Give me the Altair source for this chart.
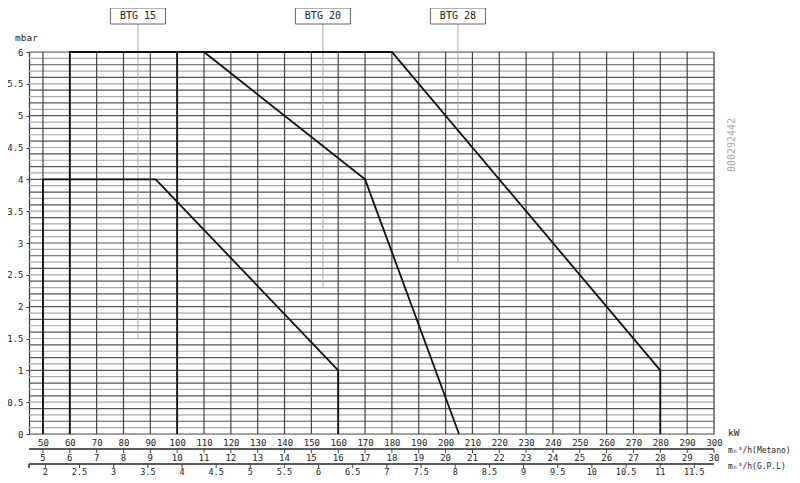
import altair as alt
import pandas as pd

FONT = "DejaVu Sans Mono"

# ---- data ----
btg15_kw = [50, 50, 92, 160, 160]
btg15_mbar = [0, 4, 4, 1, 0]
btg20_kw = [60, 60, 110, 170, 205]
btg20_mbar = [0, 6, 6, 4, 0]
btg28_kw = [100, 100, 180, 280, 280]
btg28_mbar = [0, 6, 6, 1, 0]

models = ["BTG 15", "BTG 20", "BTG 28"]
label_kw = [85.4, 154.3, 204.6]
label_mbar = [1.5, 2.3, 2.7]

kw_ticks = list(range(50, 301, 10))
metano_ticks = list(range(5, 31))
gpl_ticks = [2, 2.5, 3, 3.5, 4, 4.5, 5, 5.5, 6, 6.5, 7, 7.5, 8, 8.5, 9, 9.5,
             10, 10.5, 11, 11.5]
mbar_labels = [0, 0.5, 1, 1.5, 2, 2.5, 3, 3.5, 4, 4.5, 5, 5.5, 6]
KW_PER_METANO = 10.0
KW_PER_GPL = 25.45

W, H = 685, 382

# ---- tables ----
rows = []
for name, xs_, ys_ in [("BTG 15", btg15_kw, btg15_mbar),
                       ("BTG 20", btg20_kw, btg20_mbar),
                       ("BTG 28", btg28_kw, btg28_mbar)]:
    for i, (x, y) in enumerate(zip(xs_, ys_)):
        rows.append({"model": name, "kw": x, "mbar": y, "ord": i})
curves = pd.DataFrame(rows)

hgrid = pd.DataFrame({"mbar": [round(i * 0.1, 1) for i in range(61)],
                      "par": [str(i % 2) for i in range(61)]})
vgrid = pd.DataFrame({"kw": kw_ticks})
labels = pd.DataFrame({"model": models, "kw": label_kw, "mbar": label_mbar})
labels["x1"] = labels["kw"] - 10.25
labels["x2"] = labels["kw"] + 10.25
met = pd.DataFrame({"val": metano_ticks})
met["kw"] = met["val"] * KW_PER_METANO
met["lab"] = met["val"].astype(str)
gpl = pd.DataFrame({"val": gpl_ticks})
gpl["kw"] = gpl["val"] * KW_PER_GPL
gpl["lab"] = [("%g" % v) for v in gpl_ticks]

xs = alt.Scale(domain=[44.8, 300], nice=False, zero=False)
ys = alt.Scale(domain=[0, 6], nice=False, zero=True)

x_axis = alt.Axis(values=kw_ticks, grid=False, ticks=False, domain=False,
                  labelPadding=4, labelFlush=False, labelOverlap=False,
                  labelFont=FONT, labelFontSize=9, labelColor="#222",
                  title=None, format="d")
y_axis = alt.Axis(values=mbar_labels, format=".1~f", grid=False,
                  tickSize=3, tickColor="#333", domainColor="#333",
                  domainWidth=1.2, labelPadding=3, labelFont=FONT,
                  labelFontSize=9, labelColor="#222", title=None,
                  labelOverlap=False, labelFlush=False)


def X(f="kw:Q"):
    return alt.X(f, scale=xs, axis=x_axis)


def Y(f="mbar:Q"):
    return alt.Y(f, scale=ys, axis=y_axis)


hg = alt.Chart(hgrid).mark_rule(strokeWidth=1.2).encode(
    y=Y(), x=alt.value(0), x2=alt.value(W),
    color=alt.Color("par:N", scale=alt.Scale(domain=["0", "1"], range=["#555555", "#aaaaaa"]),
                    legend=None),
)

vg = alt.Chart(vgrid).mark_rule(strokeWidth=1.2, color="#444").encode(
    x=X(), y=alt.value(0), y2=alt.value(H)
)

lines = alt.Chart(curves).mark_line(color="#111", strokeWidth=1.8).encode(
    x=X(), y=Y(), detail="model:N", order="ord:Q",
)

BOX_TOP, BOX_BOT = -44, -28
leaders = alt.Chart(labels).mark_rule(color="#aaa", strokeWidth=1).encode(
    x=X(), y=Y(), y2=alt.value(BOX_BOT)
)
boxes = alt.Chart(labels).mark_rect(fill="white", stroke="#666", strokeWidth=1).encode(
    x=X("x1:Q"), x2="x2:Q", y=alt.value(BOX_TOP), y2=alt.value(BOX_BOT)
)
boxtext = alt.Chart(labels).mark_text(font=FONT, fontSize=10, color="#222").encode(
    x=X(), y=alt.value((BOX_TOP + BOX_BOT) / 2), text="model:N"
)

row1 = alt.Chart(labels).mark_rule(color="#444", strokeWidth=1).encode(
    x=alt.value(0), x2=alt.value(W), y=alt.value(397)
)
row2 = alt.Chart(labels).mark_rule(color="#444", strokeWidth=1).encode(
    x=alt.value(0), x2=alt.value(W), y=alt.value(412)
)
met_ticks = alt.Chart(met).mark_rule(color="#444", strokeWidth=1).encode(
    x=X(), y=alt.value(397), y2=alt.value(401)
)
met_text = alt.Chart(met).mark_text(font=FONT, fontSize=9, color="#222").encode(
    x=X(), y=alt.value(406), text="lab:N"
)
gpl_ticks_m = alt.Chart(gpl).mark_rule(color="#444", strokeWidth=1).encode(
    x=X(), y=alt.value(412), y2=alt.value(416)
)
gpl_text = alt.Chart(gpl).mark_text(font=FONT, fontSize=8.5, color="#222").encode(
    x=X(), y=alt.value(419.5), text="lab:N"
)
left_tick = alt.Chart(labels).mark_rule(color="#444").encode(
    x=alt.value(0), y=alt.value(412), y2=alt.value(416)
)


def side_label(t, px, py, size=9):
    return alt.Chart(pd.DataFrame({"t": [t]})).mark_text(
        font=FONT, fontSize=size, color="#222", align="left"
    ).encode(x=alt.value(px), y=alt.value(py), text="t:N")


code_text = alt.Chart(pd.DataFrame({"t": ["000292442"]})).mark_text(
    font=FONT, fontSize=10, color="#aaa", angle=270
).encode(x=alt.value(703), y=alt.value(93), text="t:N")

chart = alt.layer(
    hg, vg, leaders, lines, boxes, boxtext, row1, row2, met_ticks, met_text,
    gpl_ticks_m, gpl_text, left_tick,
    side_label("kW", 699, 381, 9.5),
    side_label("mₙ³/h(Metano)", 699, 399, 8),
    side_label("mₙ³/h(G.P.L)", 699, 415, 8),
    side_label("mbar", -14, -14, 9.5),
    code_text,
).properties(
    width=W, height=H, autosize="none",
    padding={"left": 21, "top": 44, "right": 78, "bottom": 41},
).configure_view(stroke=None).configure_axisX(labelOverlap=False).configure_axisY(
    labelOverlap=False).configure(background="white")

chart.save("out.html", embed_options={"renderer": "svg", "actions": False})
